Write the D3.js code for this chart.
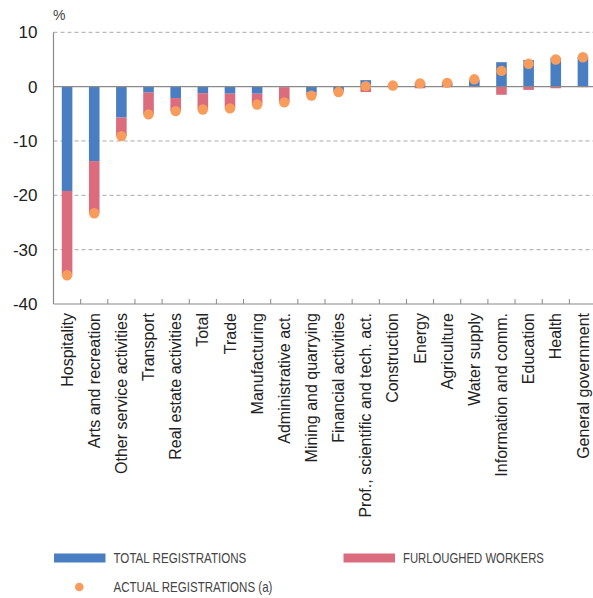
<!DOCTYPE html>
<html>
<head>
<meta charset="utf-8">
<script src="https://cdn.jsdelivr.net/npm/d3@7/dist/d3.min.js"></script>
<style>
  html, body { margin: 0; padding: 0; background: #fff; }
  svg { display: block; }
</style>
</head>
<body>
<svg id="chart" width="593" height="598"></svg>
<script>
// Sectors, ordered from the largest drop to the largest rise
const categories = [
  "Hospitality", "Arts and recreation", "Other service activities", "Transport",
  "Real estate activities", "Total", "Trade", "Manufacturing", "Administrative act.",
  "Mining and quarrying", "Financial activities", "Prof., scientific and tech. act.",
  "Construction", "Energy", "Agriculture", "Water supply", "Information and comm.",
  "Education", "Health", "General government"
];

// Year-on-year change in social security registrations, %
const totalRegistrations = [
  -19.2, -13.7, -5.7, -1.1, -2.1, -1.2, -1.3, -1.3, -0.1, -1.1,
  -0.6, 1.2, 0.2, 0.7, 0.8, 1.2, 4.5, 4.9, 5.3, 5.5
];
const furloughedWorkers = [
  -15.5, -9.6, -3.4, -4.0, -2.4, -3.0, -2.7, -2.0, -2.8, -0.5,
  -0.4, -1.0, -0.1, -0.3, -0.1, -0.1, -1.5, -0.6, -0.3, -0.1
];
const actualRegistrations = [
  -34.7, -23.3, -9.1, -5.1, -4.5, -4.2, -4.0, -3.3, -2.9, -1.65,
  -1.0, 0.1, 0.2, 0.6, 0.7, 1.35, 2.9, 4.2, 5.0, 5.4
];

const yTicks = [10, 0, -10, -20, -30, -40];

const seriesKeys = ["total", "furloughed"];
const seriesColors = { total: "#4a7ec2", furloughed: "#db6c7d" };
const dotColor = "#f89c5c";
const legendLabels = {
  total: "TOTAL REGISTRATIONS",
  furloughed: "FURLOUGHED WORKERS",
  actual: "ACTUAL REGISTRATIONS (a)"
};

const rows = categories.map((c, i) => ({
  category: c,
  total: totalRegistrations[i],
  furloughed: furloughedWorkers[i],
  actual: actualRegistrations[i]
}));

const svg = d3.select("#chart");
const plot = { left: 53.5, right: 596.5, top: 32.3, bottom: 304 };

const x = d3.scaleBand()
  .domain(categories)
  .range([plot.left, plot.right])
  .padding(0);

const y = d3.scaleLinear()
  .domain([-40, 10])
  .range([plot.bottom, plot.top]);

const barW = x.bandwidth() * 0.39;

// Horizontal grid (dashed)
svg.append("g")
  .selectAll("line")
  .data(yTicks.filter(t => t !== 0 && t !== -40))
  .join("line")
  .attr("x1", plot.left).attr("x2", plot.right)
  .attr("y1", d => y(d)).attr("y2", d => y(d))
  .attr("stroke", "#a8a8a8")
  .attr("stroke-width", 1)
  .attr("stroke-dasharray", "4,3");

// Y axis labels (plain hyphen for negatives)
const yAxis = d3.axisLeft(y)
  .tickValues(yTicks)
  .tickFormat(d => String(d))
  .tickSize(0)
  .tickPadding(16);
const gy = svg.append("g")
  .attr("transform", `translate(${plot.left},0)`)
  .call(yAxis);
gy.select(".domain").remove();
gy.selectAll("text")
  .attr("font-family", "'Liberation Sans', Arial, sans-serif")
  .attr("font-size", 17)
  .attr("fill", "#222");

svg.append("text")
  .attr("x", 53)
  .attr("y", 20)
  .attr("font-family", "'Liberation Sans', Arial, sans-serif")
  .attr("font-size", 14)
  .attr("fill", "#444")
  .text("%");

// Stacked bars: furloughed workers stacked beyond total registrations
const stack = d3.stack()
  .keys(seriesKeys)
  .offset(d3.stackOffsetDiverging);
const stacked = stack(rows);

svg.append("g")
  .selectAll("g")
  .data(stacked)
  .join("g")
  .attr("fill", d => seriesColors[d.key])
  .selectAll("rect")
  .data(d => d)
  .join("rect")
  .attr("x", d => x(d.data.category) + x.bandwidth() / 2 - barW / 2)
  .attr("width", barW)
  .attr("y", d => y(Math.max(d[0], d[1])))
  .attr("height", d => Math.abs(y(d[0]) - y(d[1])));

// Zero line
svg.append("line")
  .attr("x1", plot.left).attr("x2", plot.right)
  .attr("y1", y(0)).attr("y2", y(0))
  .attr("stroke", "#8a8a8a")
  .attr("stroke-width", 1.2);

// Axis frame: left and bottom lines
svg.append("line")
  .attr("x1", plot.left).attr("x2", plot.left)
  .attr("y1", plot.top).attr("y2", plot.bottom)
  .attr("stroke", "#8a8a8a").attr("stroke-width", 1.2);
svg.append("line")
  .attr("x1", plot.left).attr("x2", plot.right)
  .attr("y1", plot.bottom).attr("y2", plot.bottom)
  .attr("stroke", "#8a8a8a").attr("stroke-width", 1.2);

// Category separators along the bottom axis
svg.append("g")
  .selectAll("line")
  .data(categories.slice(1))
  .join("line")
  .attr("x1", d => x(d)).attr("x2", d => x(d))
  .attr("y1", plot.bottom - 5).attr("y2", plot.bottom)
  .attr("stroke", "#8a8a8a").attr("stroke-width", 1);

// Actual registrations markers
svg.append("g")
  .selectAll("circle")
  .data(rows)
  .join("circle")
  .attr("cx", d => x(d.category) + x.bandwidth() / 2)
  .attr("cy", d => y(d.actual))
  .attr("r", 5.2)
  .attr("fill", dotColor);

// Category labels, rotated
svg.append("g")
  .selectAll("text")
  .data(categories)
  .join("text")
  .attr("transform", d => `translate(${x(d) + x.bandwidth() / 2},313) rotate(-90)`)
  .attr("text-anchor", "end")
  .attr("dy", "0.35em")
  .attr("font-family", "'Liberation Sans', Arial, sans-serif")
  .attr("font-size", 16)
  .attr("fill", "#222")
  .text(d => d);

// Legend: labels are squeezed horizontally to a condensed look
const legendFont = "'Liberation Sans', Arial, sans-serif";
const legendSize = 15;
const legend = svg.append("g");

function condensedLabel(px, py, label, width) {
  const g = legend.append("g").attr("transform", `translate(${px},${py})`);
  const t = g.append("text")
    .attr("dy", "0.35em")
    .attr("font-family", legendFont)
    .attr("font-size", legendSize)
    .attr("fill", "#444")
    .text(label);
  const natural = t.node().getComputedTextLength();
  t.attr("transform", `scale(${width / natural},1)`);
}

const swatches = [
  { key: "total", x: 54, y: 558, w: 133 },
  { key: "furloughed", x: 343.5, y: 558, w: 141 }
];
swatches.forEach(s => {
  legend.append("rect")
    .attr("x", s.x).attr("y", s.y - 4.5)
    .attr("width", 51.5).attr("height", 9)
    .attr("fill", seriesColors[s.key]);
  condensedLabel(s.x + 59.5, s.y, legendLabels[s.key], s.w);
});
legend.append("circle")
  .attr("cx", 79.3).attr("cy", 587)
  .attr("r", 4.3)
  .attr("fill", dotColor);
condensedLabel(113.5, 587, legendLabels.actual, 159);
</script>
</body>
</html>
